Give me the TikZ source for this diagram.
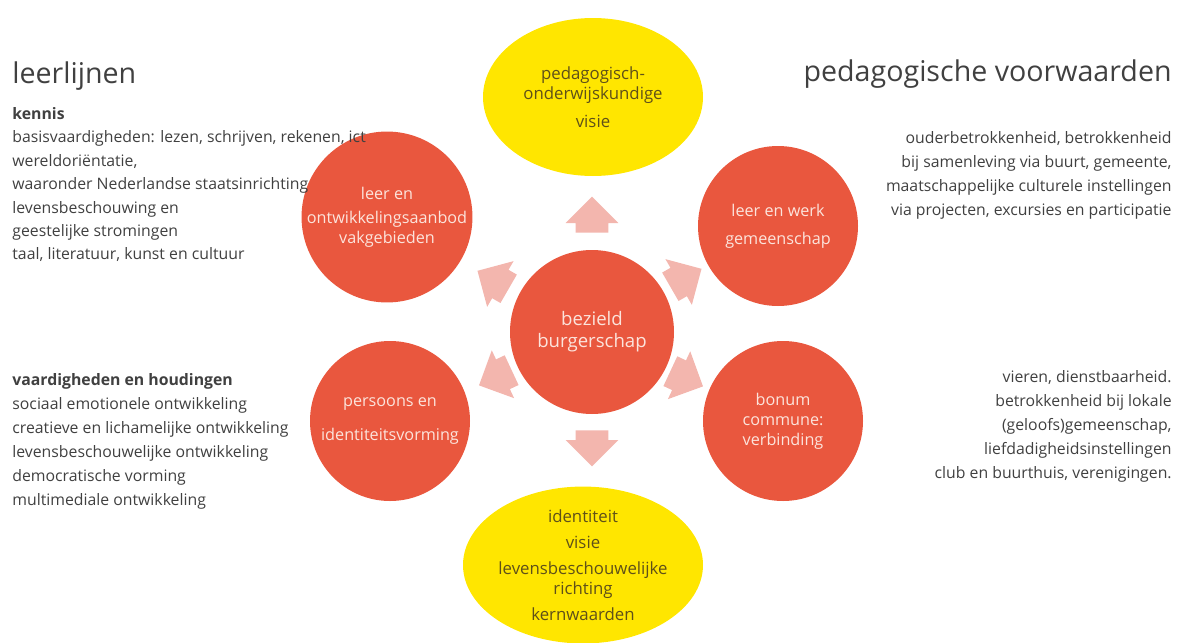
\documentclass[tikz,border=0pt]{standalone}
\usepackage{fontspec}
\setmainfont{Open Sans}
\usepackage{xcolor}
\usepackage{tikz}
\usetikzlibrary{shapes.geometric, shapes.arrows, positioning}

\definecolor{hubred}{RGB}{233,87,62}
\definecolor{pushpink}{RGB}{243,182,174}
\definecolor{goalyellow}{RGB}{255,230,0}
\definecolor{goaltext}{RGB}{95,80,25}
\definecolor{hubtext}{RGB}{252,228,220}
\definecolor{bodygray}{RGB}{64,64,64}

\begin{document}
\begin{tikzpicture}[
            x=0.5pt, y=-0.5pt,
            hub/.style={circle, fill=hubred, text=hubtext, inner sep=0, align=center},
            goal/.style={ellipse, fill=goalyellow, text=goaltext, inner sep=0, align=center,
                font=\fontsize{8.4}{10}\selectfont},
            push/.style={single arrow, fill=pushpink, inner xsep=0, inner ysep=8pt,
                minimum height=18pt, single arrow head extend=5pt, anchor=tail},
            block/.style={inner sep=0, text=bodygray, font=\fontsize{7.9}{12}\selectfont},
            title/.style={inner sep=0, text=bodygray, font=\fontsize{14.3}{16}\selectfont}
        ]

        \useasboundingbox (0,0) rectangle (1179,643);

        % Goals (yellow)
        \node[goal, minimum width=110pt, minimum height=79pt] (vision) at (593,97)
            {pedagogisch-\\onderwijskundige\\[4pt]visie};
        \node[goal, minimum width=120pt, minimum height=78pt] (identity) at (583,565)
            {identiteit\\[3pt]visie\\[3pt]levensbeschouwelijke\\richting\\[3pt]kernwaarden};

        % Circles
        \node[hub, minimum size=82pt, font=\fontsize{9.3}{11}\selectfont] (core) at (592,332)
            {bezield\\burgerschap};
        \node[hub, minimum size=81pt, font=\fontsize{8.1}{10}\selectfont] (offer) at (387,217)
            {leer en\\[2pt]ontwikkelingsaanbod\\vakgebieden};
        \node[hub, minimum size=80pt, font=\fontsize{8.1}{10}\selectfont] (community) at (778,226)
            {leer en werk\\[4pt]gemeenschap};
        \node[hub, minimum size=80pt, font=\fontsize{8.1}{10}\selectfont] (person) at (390,421)
            {persoons en\\[7pt]identiteitsvorming};
        \node[hub, minimum size=80pt, font=\fontsize{8.1}{10}\selectfont] (bonum) at (783,421)
            {bonum\\commune:\\verbinding};

        % Block arrows (placed at their tails)
        \node[push, rotate=90] (toVision) at (592,233) {};
        \node[push, rotate=-90] (toIdentity) at (592,430) {};
        \node[push, rotate=150] (toOffer) at (509,289) {};
        \node[push, rotate=205] (toPerson) at (512,370) {};
        \node[push, rotate=30] (toCommunity) at (670,287) {};
        \node[push, rotate=-25] (toBonum) at (670,371) {};

        % Titles
        \node[title, anchor=west] (lines) at (12,76) {leerlijnen};
        \node[title, anchor=east] (terms) at (1172,74) {pedagogische voorwaarden};

        % Text blocks
        \node[block, anchor=north west, align=left, font=\fontsize{7.9}{11.7}\selectfont]
            (knowledge) at (12,107)
            {\textbf{kennis}\\
             basisvaardigheden: lezen, schrijven, rekenen, ict\\
             wereldoriëntatie,\\
             waaronder Nederlandse staatsinrichting\\
             levensbeschouwing en\\
             geestelijke stromingen\\
             taal, literatuur, kunst en cultuur};
        \node[block, anchor=north west, align=left] (skills) at (12,373)
            {\textbf{vaardigheden en houdingen}\\
             sociaal emotionele ontwikkeling\\
             creatieve en lichamelijke ontwikkeling\\
             levensbeschouwelijke ontwikkeling\\
             democratische vorming\\
             multimediale ontwikkeling};
        \node[block, anchor=north east, align=right] (society) at (1172,131)
            {ouderbetrokkenheid, betrokkenheid\\
             bij samenleving via buurt, gemeente,\\
             maatschappelijke culturele instellingen\\
             via projecten, excursies en participatie};
        \node[block, anchor=north east, align=right] (local) at (1172,370)
            {vieren, dienstbaarheid.\\
             betrokkenheid bij lokale\\
             (geloofs)gemeenschap,\\
             liefdadigheidsinstellingen\\
             club en buurthuis, verenigingen.};

    \end{tikzpicture}
\end{document}
